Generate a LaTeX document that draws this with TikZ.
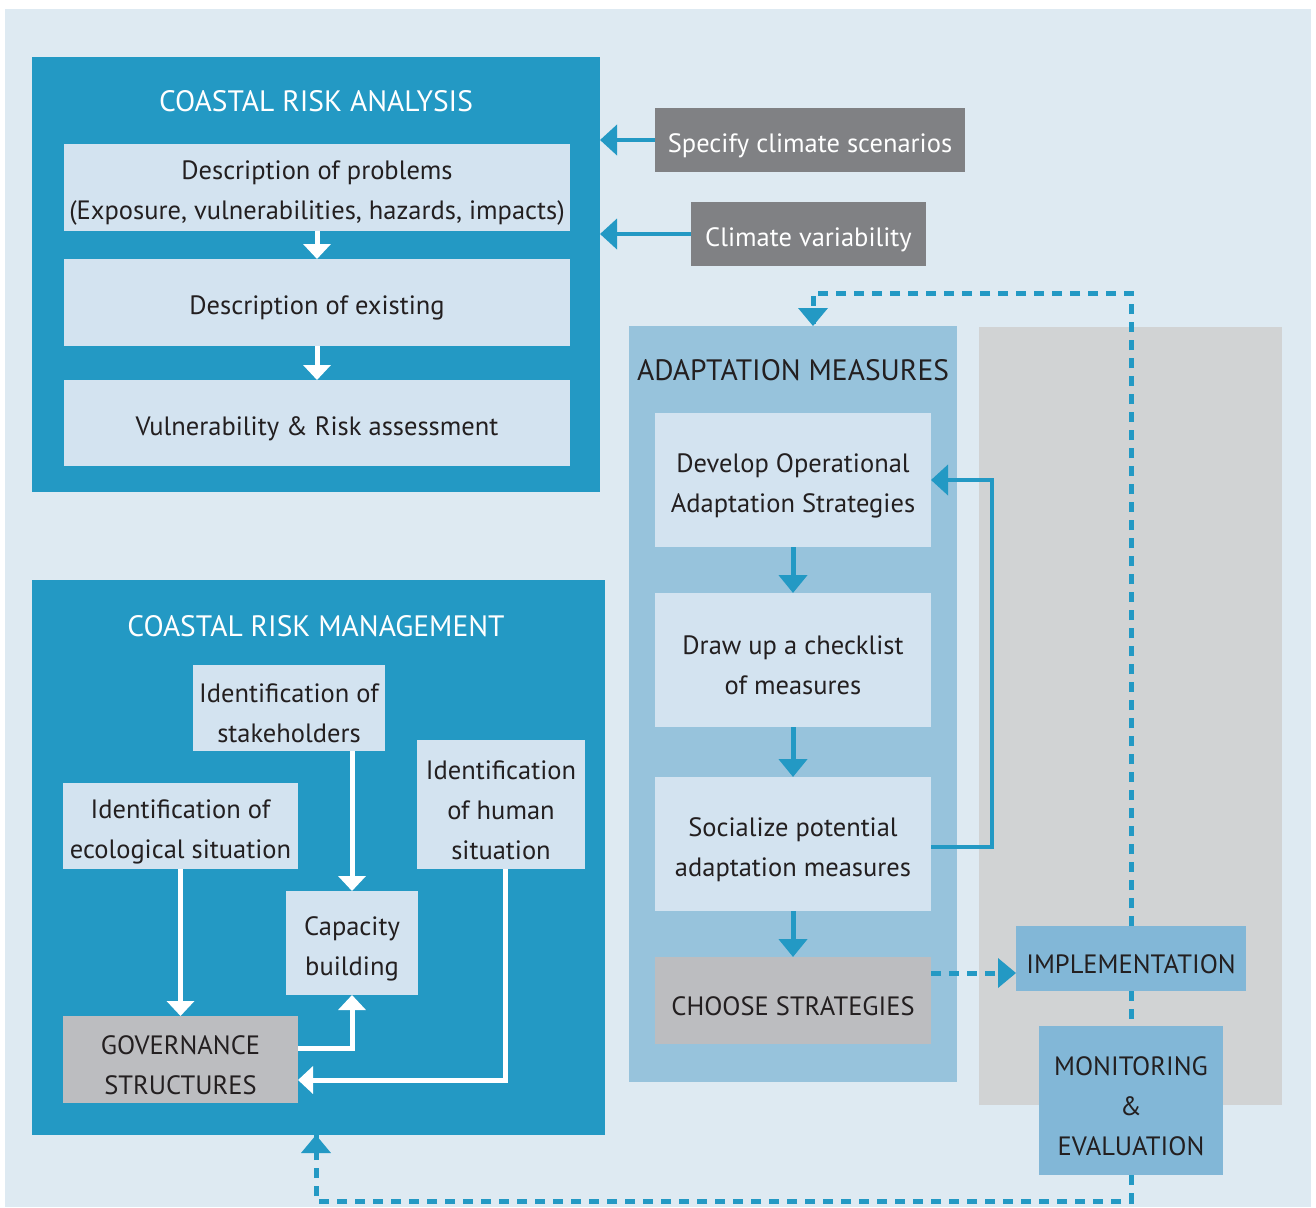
\documentclass[tikz,border=0pt]{standalone}
\usepackage{fontspec}
\setmainfont{PT Sans}
\usetikzlibrary{arrows.meta}
\definecolor{bgc}{HTML}{DEEAF2}
\definecolor{mainblue}{HTML}{2399C4}
\definecolor{inner}{HTML}{D3E3F0}
\definecolor{ampanel}{HTML}{97C3DC}
\definecolor{darkgray}{HTML}{808184}
\definecolor{graypanel}{HTML}{D1D3D4}
\definecolor{lightgray}{HTML}{BCBDC0}
\definecolor{implc}{HTML}{82B7D7}
\definecolor{txt}{HTML}{231F20}
\tikzset{
  box/.style={inner sep=0pt, outer sep=0pt},
  boxtext/.style={inner sep=0pt, outer sep=0pt, align=center, text=txt, font=\fontsize{26.5}{40}\selectfont},
  panel/.style={inner sep=0pt, outer sep=0pt},
  heading/.style={inner sep=0pt, font=\fontsize{29.5}{34}\selectfont},
  whitearrow/.style={draw=white, line width=5pt, -{Triangle[width=27pt,length=15pt]}},
  bluearrow/.style={draw=mainblue, line width=5pt, -{Triangle[width=28pt,length=18pt]}},
  bluethin/.style={draw=mainblue, line width=4pt, -{Triangle[width=30pt,length=17pt]}},
  dashline/.style={draw=mainblue, line width=5pt, dash pattern=on 10pt off 8pt},
}
% \mybox[extra text options]{name}{x,y}{width}{height}{fill}{text}
\newcommand{\mybox}[7][]{%
  \node[box, fill=#6, minimum width=#4, minimum height=#5] (#2) at (#3) {};
  \node[boxtext, #1] (#2-t) at ([yshift=-5.5pt]#2.center) {#7};
}
\begin{document}
\begin{tikzpicture}[x=1pt,y=-1pt]
\useasboundingbox (0,0) rectangle (1316,1207);
\fill[white] (0,0) rectangle (1316,1207);
\fill[bgc] (5,9) rectangle (1311,1207);

% Coastal risk analysis
\node[panel, fill=mainblue, minimum width=568pt, minimum height=435pt] (cra) at (316,274.5) {};
\node[heading, text=white] (crat) at (316,101) {COASTAL RISK ANALYSIS};
\mybox{d1}{317,187.5}{506pt}{87pt}{inner}{Description of problems\\(Exposure, vulnerabilities, hazards, impacts)}
\mybox{d2}{317,302.5}{506pt}{87pt}{inner}{Description of existing}
\mybox{d3}{317,423}{506pt}{86pt}{inner}{Vulnerability \& Risk assessment}
\draw[whitearrow] (d1.south) -- (d2.north);
\draw[whitearrow] (d2.south) -- (d3.north);

% inputs
\mybox[text=white]{spec}{810,140}{310pt}{64pt}{darkgray}{Specify climate scenarios}
\mybox[text=white]{clim}{808.5,234}{235pt}{64pt}{darkgray}{Climate variability}
\draw[bluethin] (spec.west) -- (spec.west -| cra.east);
\draw[bluethin] (clim.west) -- (clim.west -| cra.east);

% gray panel
\node[panel, fill=graypanel, minimum width=303pt, minimum height=778pt] (gp) at (1130.5,716) {};

% adaptation measures
\node[panel, fill=ampanel, minimum width=328pt, minimum height=756pt] (am) at (793,704) {};
\node[heading, text=txt] (amt) at (793,370) {ADAPTATION MEASURES};
\mybox{a1}{793,480}{276pt}{134pt}{inner}{Develop Operational\\Adaptation Strategies}
\mybox{a2}{793,660}{276pt}{134pt}{inner}{Draw up a checklist\\of measures}
\mybox{a3}{793,844}{276pt}{134pt}{inner}{Socialize potential\\adaptation measures}
\mybox{cs}{793,1000.5}{276pt}{87pt}{lightgray}{CHOOSE STRATEGIES}
\draw[bluearrow] (a1.south) -- (a2.north);
\draw[bluearrow] (a2.south) -- (a3.north);
\draw[bluearrow] (a3.south) -- (cs.north);
\coordinate (fb1) at (992,847);
\coordinate (fb2) at (992,480);
\draw[bluethin] (a3.east |- fb1) -- (fb1) -- (fb2) -- (a1.east);

% implementation & monitoring
\mybox{impl}{1131,958.5}{230pt}{65pt}{implc}{IMPLEMENTATION}
\mybox{mon}{1131,1100.5}{184pt}{149pt}{implc}{MONITORING\\\&\\EVALUATION}

% Coastal risk management
\node[panel, fill=mainblue, minimum width=573pt, minimum height=555pt] (crm) at (318.5,857.5) {};
\node[heading, text=white] (crmt) at (316,626) {COASTAL RISK MANAGEMENT};
\mybox{stk}{289,708}{192pt}{86pt}{inner}{Identification of\\stakeholders}
\mybox{eco}{180.5,826}{235pt}{86pt}{inner}{Identification of\\ecological situation}
\mybox{hum}{501,804.5}{168pt}{129pt}{inner}{Identification\\of human\\situation}
\mybox{cap}{352,943}{132pt}{104pt}{inner}{Capacity\\building}
\mybox{gov}{180.5,1059.5}{235pt}{87pt}{lightgray}{GOVERNANCE\\STRUCTURES}
\draw[whitearrow] (eco.south) -- (gov.north);
\draw[whitearrow] (stk.south -| cap.north) -- (cap.north);
\coordinate (g1) at (352,1048);
\draw[whitearrow] (gov.east |- g1) -- (g1) -- (cap.south);
\coordinate (h1) at (505,1080);
\draw[whitearrow] (hum.south -| h1) -- (h1) -- (gov.east |- h1);

% dashed loops
\coordinate (t1) at (1131,293);
\coordinate (t2) at (813,293);
\draw[dashline] (impl.north) -- (t1) -- (t2) -- (t2 |- am.north);
\fill[mainblue] (t2 |- am.north) -- ++(-15,-18) -- ++(30,0) -- cycle;
\draw[dashline] (impl.south) -- (mon.north);
\coordinate (b1) at (1131,1201);
\coordinate (b2) at (316,1201);
\draw[dashline] (mon.south) -- (b1) -- (b2) -- ([yshift=15pt]b2 |- crm.south);
\fill[mainblue] (b2 |- crm.south) -- ++(-15,18) -- ++(30,0) -- cycle;
\coordinate (c1) at (931,973);
\draw[dashline] (c1) -- (impl.west |- c1);
\fill[mainblue] (impl.west |- c1) -- ++(-18,-15) -- ++(0,30) -- cycle;
\end{tikzpicture}
\end{document}
